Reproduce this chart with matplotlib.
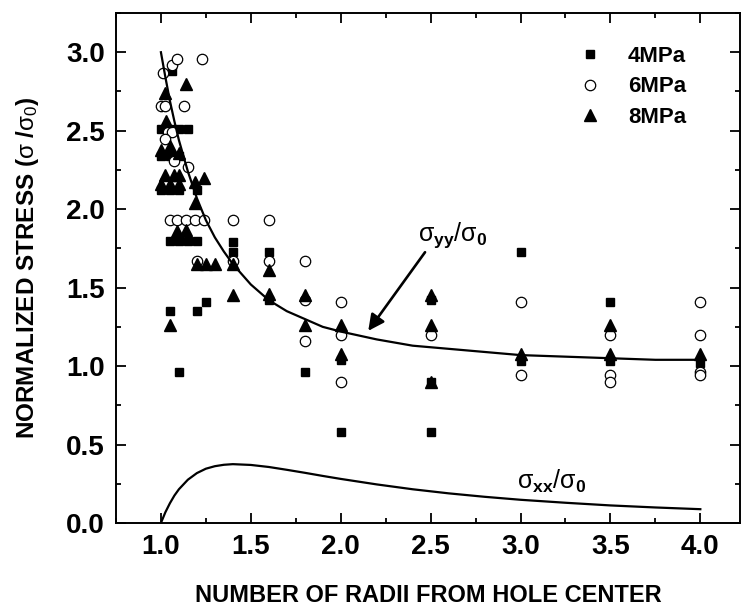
import matplotlib
matplotlib.use("Agg")
import matplotlib.pyplot as plt
from matplotlib.ticker import MultipleLocator

plt.rcParams["font.family"] = ["Liberation Sans", "DejaVu Sans"]
plt.rcParams["mathtext.fontset"] = "custom"
plt.rcParams["mathtext.rm"] = "Liberation Sans"
plt.rcParams["mathtext.bf"] = "Liberation Sans:bold"
plt.rcParams["mathtext.it"] = "Liberation Sans:italic"

x_4mpa = [1.06, 1.0, 1.05, 1.1, 1.15, 1.0, 1.05, 1.1, 1.0, 1.05, 1.1, 1.2,
          1.05, 1.1, 1.15, 1.2, 1.4, 1.4, 1.6, 1.6, 1.05, 1.2, 1.25, 1.1,
          1.8, 2.0, 2.0, 2.5, 2.5, 2.5, 3.0, 3.0, 3.5, 3.5, 4.0]
y_4mpa = [2.88, 2.51, 2.51, 2.51, 2.51, 2.34, 2.34, 2.34, 2.12, 2.12, 2.12, 2.12,
          1.80, 1.80, 1.80, 1.80, 1.79, 1.73, 1.73, 1.42, 1.35, 1.35, 1.41, 0.96,
          0.96, 1.04, 0.58, 1.42, 0.90, 0.58, 1.73, 1.03, 1.41, 1.03, 1.02]

x_6mpa = [1.01, 1.06, 1.09, 1.23, 1.0, 1.02, 1.13, 1.04, 1.06, 1.02, 1.07, 1.15,
          1.05, 1.09, 1.14, 1.19, 1.24, 1.4, 1.6, 1.2, 1.4, 1.6, 1.8,
          1.8, 1.8, 2.0, 2.0, 2.0, 2.5, 3.0, 3.0, 3.5, 3.5, 3.5,
          4.0, 4.0, 4.0, 4.0]
y_6mpa = [2.87, 2.92, 2.96, 2.96, 2.66, 2.66, 2.66, 2.49, 2.49, 2.45, 2.31, 2.27,
          1.93, 1.93, 1.93, 1.93, 1.93, 1.93, 1.93, 1.67, 1.67, 1.67, 1.67,
          1.42, 1.16, 1.41, 1.20, 0.90, 1.20, 1.41, 0.94, 1.20, 0.94, 0.90,
          1.41, 1.20, 0.96, 0.94]

x_8mpa = [1.14, 1.02, 1.03, 1.0, 1.05, 1.1, 1.02, 1.07, 1.1, 1.24, 1.0, 1.05,
          1.1, 1.19, 1.19, 1.09, 1.14, 1.2, 1.25, 1.3, 1.4, 1.4, 1.6, 1.6,
          1.05, 1.8, 1.8, 2.0, 2.0, 2.5, 2.5, 2.5, 3.0, 3.5, 3.5, 4.0]
y_8mpa = [2.80, 2.74, 2.56, 2.38, 2.40, 2.36, 2.22, 2.22, 2.22, 2.20, 2.16, 2.16,
          2.16, 2.17, 2.04, 1.86, 1.87, 1.65, 1.65, 1.65, 1.65, 1.45, 1.61, 1.46,
          1.26, 1.45, 1.26, 1.26, 1.08, 1.45, 1.26, 0.90, 1.08, 1.26, 1.08, 1.08]

# theory curves
r_curve = [1.0, 1.025, 1.05, 1.075, 1.1, 1.15, 1.2, 1.25, 1.3, 1.35, 1.4, 1.5,
           1.6, 1.7, 1.8, 1.9, 2.0, 2.2, 2.4, 2.6, 2.8, 3.0, 3.25, 3.5, 3.75, 4.0]
syy_curve = [3.00, 2.84, 2.69, 2.56, 2.44, 2.24, 2.07, 1.93, 1.82, 1.73, 1.65, 1.52,
             1.42, 1.35, 1.30, 1.25, 1.22, 1.17, 1.13, 1.11, 1.09, 1.07, 1.06, 1.05, 1.04, 1.04]
sxx_curve = [0.0, 0.069, 0.126, 0.175, 0.215, 0.276, 0.318, 0.346, 0.362, 0.371, 0.375, 0.370,
             0.357, 0.339, 0.320, 0.300, 0.281, 0.246, 0.215, 0.189, 0.167, 0.148, 0.129, 0.112, 0.099, 0.088]

fig = plt.figure(figsize=(7.41, 6.08), dpi=100)
ax = fig.add_axes([0.1565, 0.1398, 0.842, 0.8388])

ax.plot(x_4mpa, y_4mpa, "s", color="black", ms=6, label="4MPa")
ax.plot(x_6mpa, y_6mpa, "o", mfc="white", mec="black", mew=0.9, ms=7.5, label="6MPa")
ax.plot(x_8mpa, y_8mpa, "^", color="black", ms=8, label="8MPa")
ax.plot(r_curve, syy_curve, color="black", lw=1.6)
ax.plot(r_curve, sxx_curve, color="black", lw=1.6)

ax.annotate("", xy=(2.144, 1.21), xytext=(2.478, 1.74),
            arrowprops=dict(arrowstyle="-|>", color="black", lw=1.9, mutation_scale=24))
ax.text(2.43, 1.80, r"$\mathrm{σ}_{\mathbf{yy}}\mathrm{/σ}_{\mathbf{0}}$", fontsize=18)
ax.text(2.98, 0.22, r"$\mathrm{σ}_{\mathbf{xx}}\mathrm{/σ}_{\mathbf{0}}$", fontsize=18)

ax.set_xlim(0.75, 4.22)
ax.set_ylim(0.0, 3.25)
ax.xaxis.set_major_locator(MultipleLocator(0.5))
ax.xaxis.set_minor_locator(MultipleLocator(0.25))
ax.yaxis.set_major_locator(MultipleLocator(0.5))
ax.yaxis.set_minor_locator(MultipleLocator(0.25))
ax.tick_params(which="both", direction="in", top=True, right=True, width=1.3)
ax.tick_params(which="major", length=7, labelsize=20, pad=8)
ax.tick_params(which="minor", length=3.5)
for lab in ax.get_xticklabels() + ax.get_yticklabels():
    lab.set_fontweight("bold")
for s in ax.spines.values():
    s.set_linewidth(1.4)

ax.set_xlabel("NUMBER OF RADII FROM HOLE CENTER", fontsize=17, fontweight="bold", labelpad=17)
ax.set_ylabel(r"NORMALIZED STRESS ($\mathrm{σ}$ /$\mathrm{σ}_{0}$)", fontsize=17.5,
              fontweight="bold", labelpad=18)

leg = ax.legend(loc="upper left", bbox_to_anchor=(0.742, 0.935), frameon=False,
                fontsize=16, handlelength=1.0, handletextpad=1.2, labelspacing=0.42,
                borderpad=0, borderaxespad=0, numpoints=1)
for t in leg.get_texts():
    t.set_fontweight("bold")

fig.savefig("out.png", dpi=100)
